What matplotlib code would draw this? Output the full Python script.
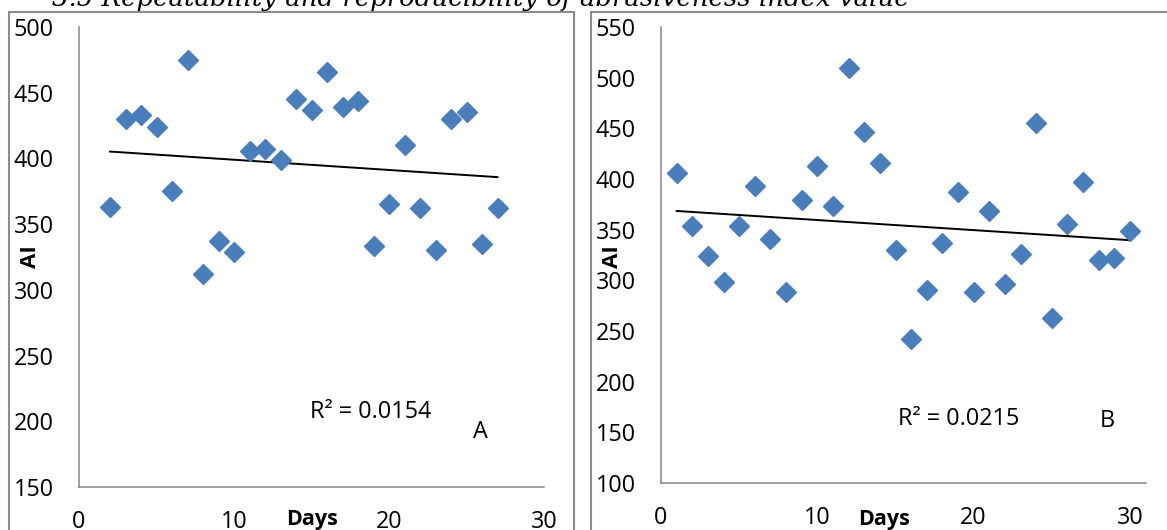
import numpy as np
import matplotlib
matplotlib.use("Agg")
import matplotlib.pyplot as plt
from matplotlib.patches import Rectangle

# ---------------- data ----------------
days_a = [2, 3, 4, 5, 6, 7, 8, 9, 10, 11, 12, 13, 14, 15, 16, 17, 18, 19, 20,
          21, 22, 23, 24, 25, 26, 27]
ai_a = [363, 430, 433, 424, 375, 475, 312, 337, 329, 406, 407, 399, 445, 437,
        466, 439, 444, 333, 365, 410, 362, 330, 430, 435, 335, 362]

days_b = [1, 2, 3, 4, 5, 6, 7, 8, 9, 10, 11, 12, 13, 14, 15, 16, 17, 18, 19, 20,
          21, 22, 23, 24, 25, 26, 27, 28, 29, 30]
ai_b = [406, 354, 324, 298, 354, 393, 341, 288, 379, 413, 373, 510, 446, 416,
        330, 242, 290, 337, 387, 288, 368, 296, 326, 455, 263, 356, 397, 320,
        322, 349]

r2_a_label = "R² = 0.0154"
r2_b_label = "R² = 0.0215"
panel_a_label = "A"
panel_b_label = "B"
x_title = "Days"
y_title = "AI"
xticks = [0, 10, 20, 30]
yticks_a = [150, 200, 250, 300, 350, 400, 450, 500]
yticks_b = [100, 150, 200, 250, 300, 350, 400, 450, 500, 550]
heading = "3.5 Repeatability and reproducibility of abrasiveness index value"

# ---------------- style ----------------
plt.rcParams["font.family"] = ["Open Sans", "DejaVu Sans"]
MARKER = "#4A7EBB"
AXIS_GRAY = "#868686"
FRAME_GRAY = "#8C8C8C"
TICK_FS = 16.8

W, H = 1167, 530
fig = plt.figure(figsize=(W / 100, H / 100), dpi=100)


def fx(px):
    return px / W


def fy(py):
    return 1 - py / H


def make_axes(left, right, top, bottom):
    return fig.add_axes([fx(left), fy(bottom), fx(right) - fx(left), fy(top) - fy(bottom)])


def style(ax, yticks, xmax):
    ax.set_xlim(0, xmax)
    ax.set_ylim(yticks[0], yticks[-1])
    ax.set_xticks(xticks)
    ax.set_yticks(yticks)
    for s in ("top", "right"):
        ax.spines[s].set_visible(False)
    for s in ("left", "bottom"):
        ax.spines[s].set_color(AXIS_GRAY)
        ax.spines[s].set_linewidth(1.1)
    ax.tick_params(axis="y", length=0, pad=18, labelsize=TICK_FS, colors="black")
    ax.tick_params(axis="x", length=0, pad=16.5, labelsize=TICK_FS, colors="black")
    ax.patch.set_alpha(0)


def draw(ax, x, y):
    x = np.asarray(x, float)
    y = np.asarray(y, float)
    ax.plot(x, y, linestyle="none", marker="D", markersize=10.3,
            color=MARKER, mec=MARKER, zorder=3)
    k, b = np.polyfit(x, y, 1)
    xs = np.array([x.min(), x.max()])
    ax.plot(xs, k * xs + b, color="black", lw=1.4, zorder=2)


# chart-area frames
fig.patches.append(Rectangle((fx(9), fy(600)), fx(574) - fx(9), fy(12) - fy(600),
                             transform=fig.transFigure, fill=False,
                             ec=FRAME_GRAY, lw=1.5))
fig.patches.append(Rectangle((fx(591), fy(600)), fx(1250) - fx(591), fy(12) - fy(600),
                             transform=fig.transFigure, fill=False,
                             ec=FRAME_GRAY, lw=1.5))

ax_a = make_axes(79, 544, 27, 487)
style(ax_a, yticks_a, 30)
draw(ax_a, days_a, ai_a)

ax_b = make_axes(661, 1146, 27, 483)
style(ax_b, yticks_b, 30 * 485 / 469)
draw(ax_b, days_b, ai_b)

# annotations
fig.text(fx(310), fy(418), r2_a_label, fontsize=TICK_FS, ha="left", va="baseline")
fig.text(fx(480), fy(438), panel_a_label, fontsize=TICK_FS, ha="center", va="baseline")
fig.text(fx(898), fy(425), r2_b_label, fontsize=TICK_FS, ha="left", va="baseline")
fig.text(fx(1107), fy(427), panel_b_label, fontsize=TICK_FS, ha="center", va="baseline")

# axis titles
for cx in (31, 613):
    fig.text(fx(cx), fy(257), y_title, fontsize=16, fontweight="bold",
             rotation=90, ha="center", va="center")
for cx in (312, 884):
    fig.text(fx(cx), fy(520), x_title, fontsize=15.5, fontweight="bold",
             ha="center", va="center")

# clipped heading at top
ht = fig.text(fx(52), fy(6), heading, fontsize=18, style="italic",
              family="DejaVu Serif", ha="left", va="baseline")
renderer = fig.canvas.get_renderer()
wpx = ht.get_window_extent(renderer).width
ht.set_fontsize(18 * (911 - 52) / wpx)

fig.savefig("out.png", dpi=100)
